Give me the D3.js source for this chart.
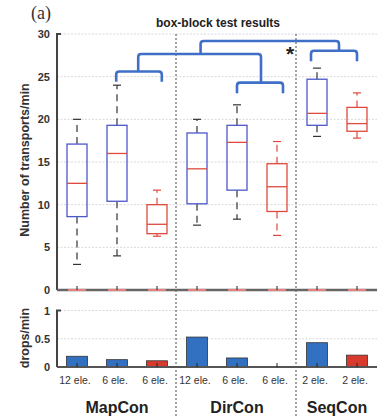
<!DOCTYPE html>
<html><head><meta charset="utf-8">
<script src="https://cdn.jsdelivr.net/npm/d3@7"></script>
<style>body{margin:0;background:#fff}svg{display:block}</style>
</head><body>
<script>
const categories = ["12 ele.","6 ele.","6 ele.","12 ele.","6 ele.","6 ele.","2 ele.","2 ele."];
const groups = ["MapCon","DirCon","SeqCon"];
const groupOf = [0,0,0,1,1,1,2,2];
const condition = ["a","a","b","a","a","b","a","b"];
const whiskerLow  = [3.0, 4.0, 6.3, 7.6, 8.3, 6.4, 18.0, 17.8];
const q1          = [8.6, 10.4, 6.6, 10.1, 11.7, 9.2, 19.3, 18.6];
const medians     = [12.5, 16.0, 7.7, 14.2, 17.3, 12.1, 20.7, 19.5];
const q3          = [17.1, 19.3, 10.0, 18.4, 19.3, 14.8, 24.7, 21.4];
const whiskerHigh = [20.0, 24.0, 11.7, 20.0, 21.7, 17.4, 26.0, 23.1];
const drops       = [0.19, 0.13, 0.11, 0.53, 0.16, 0.0, 0.43, 0.21];
const topTicks = [0,5,10,15,20,25,30];
const bottomTicks = [0,0.5,1];
// significance brackets: positions in category units, heights in transports/min
const bracketX1 = [0.98, 1.53, 4.0, 3.09, 5.85];
const bracketX2 = [2.12, 4.6, 5.15, 6.55, 7.0];
const bracketTop = [25.6, 27.66, 24.3, 29.18, 28.04];
const bracketB1 = [24.4, 25.6, 23.05, 27.66, 26.8];
const bracketB2 = [24.4, 24.3, 23.05, 28.04, 26.8];

const W = 380, H = 418;
const svg = d3.select("body").append("svg").attr("width", W).attr("height", H);
const L = 57, R = 377;
const x = d3.scaleBand().domain(d3.range(categories.length)).range([L, R]);
const cx = i => x(i) + x.bandwidth() / 2;
const xc = d3.scaleLinear().domain([0, 1]).range([cx(0), cx(1)]);
const y = d3.scaleLinear().domain([0, 30]).range([290, 34]);
const yb = d3.scaleLinear().domain([0, 1]).range([367, 310.5]);

const blue = "#4d57c9", red = "#de4a3c", gridC = "#d8d8d8";
const font = "Liberation Sans, Arial, sans-serif";

// grids
svg.append("g").selectAll("line").data(topTicks.filter(t => t > 0)).join("line")
  .attr("x1", L).attr("x2", R).attr("y1", d => y(d)).attr("y2", d => y(d))
  .attr("stroke", gridC).attr("stroke-dasharray", "2,1.5").attr("stroke-width", 1);
svg.append("g").selectAll("line").data(bottomTicks.filter(t => t > 0)).join("line")
  .attr("x1", L).attr("x2", R).attr("y1", d => yb(d)).attr("y2", d => yb(d))
  .attr("stroke", gridC).attr("stroke-dasharray", "2,1.5").attr("stroke-width", 1);

// group dividers
const dividers = [2, 5].map(i => (cx(i) + cx(i + 1)) / 2 - 1);
svg.append("g").selectAll("line").data(dividers).join("line")
  .attr("x1", d => d).attr("x2", d => d).attr("y1", y(30)).attr("y2", H)
  .attr("stroke", "#666").attr("stroke-dasharray", "2,2").attr("stroke-width", 1.2);

// axes
function yAxis(scale, ticks, fmt) {
  const g = svg.append("g").attr("transform", `translate(${L},0)`)
    .call(d3.axisLeft(scale).tickValues(ticks).tickFormat(fmt).tickSize(0).tickPadding(7));
  g.select(".domain").remove();
  g.selectAll("text").attr("font-family", font).attr("font-weight", "bold").attr("font-size", 11).attr("fill", "#333");
  const [a, b] = scale.range();
  svg.append("path").attr("d", `M${L+4},${b}H${L}V${a}`).attr("fill", "none").attr("stroke", "#444").attr("stroke-width", 2);
}
yAxis(y, topTicks, d3.format("d"));
yAxis(yb, bottomTicks, d => d === 0.5 ? "0.5" : d3.format("d")(d));

// boxes
const boxW = 20, capW = 8;
const bg = svg.append("g").selectAll("g").data(categories.map((c, i) => i)).join("g");
bg.each(function(i) {
  const g = d3.select(this);
  const c = cx(i);
  const isB = condition[i] === "b";
  const wc = isB ? red : "#333";
  const bc = isB ? red : blue;
  g.append("line").attr("x1", c).attr("x2", c).attr("y1", y(q3[i])).attr("y2", y(whiskerHigh[i]))
    .attr("stroke", wc).attr("stroke-width", 1.2).attr("stroke-dasharray", "7,5");
  g.append("line").attr("x1", c).attr("x2", c).attr("y1", y(q1[i])).attr("y2", y(whiskerLow[i]))
    .attr("stroke", wc).attr("stroke-width", 1.2).attr("stroke-dasharray", "7,5");
  [whiskerHigh[i], whiskerLow[i]].forEach(v => g.append("line")
    .attr("x1", c - capW/2).attr("x2", c + capW/2).attr("y1", y(v)).attr("y2", y(v))
    .attr("stroke", wc).attr("stroke-width", 1.2));
  g.append("rect").attr("x", c - boxW/2).attr("width", boxW)
    .attr("y", y(q3[i])).attr("height", y(q1[i]) - y(q3[i]))
    .attr("fill", "none").attr("stroke", bc).attr("stroke-width", 1.3);
  g.append("line").attr("x1", c - boxW/2).attr("x2", c + boxW/2).attr("y1", y(medians[i])).attr("y2", y(medians[i]))
    .attr("stroke", red).attr("stroke-width", 1.3);
});

// top plot baseline
svg.append("line").attr("x1", L).attr("x2", R).attr("y1", y(0)).attr("y2", y(0)).attr("stroke", "#666").attr("stroke-width", 2.5);
svg.append("g").selectAll("line").data(categories.map((c, i) => i)).join("line")
  .attr("x1", i => cx(i) - 9).attr("x2", i => cx(i) + 9).attr("y1", y(0)).attr("y2", y(0))
  .attr("stroke", "#e88080").attr("stroke-width", 2);
svg.append("g").selectAll("line").data(categories.map((c, i) => i)).join("line")
  .attr("x1", i => cx(i)).attr("x2", i => cx(i)).attr("y1", y(0) - 4).attr("y2", y(0))
  .attr("stroke", "#222").attr("stroke-width", 1);

// brackets
const rr = 3;
bracketX1.forEach((_, k) => {
  const x1 = xc(bracketX1[k]), x2 = xc(bracketX2[k]);
  const t = y(bracketTop[k]), b1 = y(bracketB1[k]), b2 = y(bracketB2[k]);
  const p = `M${x1},${b1}V${t+rr}Q${x1},${t} ${x1+rr},${t}H${x2-rr}Q${x2},${t} ${x2},${t+rr}V${b2}`;
  svg.append("path").attr("d", p).attr("fill", "none").attr("stroke", "#3f6fc6").attr("stroke-width", 2.6);
});
svg.append("text").attr("x", 290).attr("y", 61).attr("text-anchor", "middle")
  .attr("font-family", font).attr("font-weight", "bold").attr("font-size", 21).attr("fill", "#222").text("*");

// bars
svg.append("g").selectAll("rect").data(drops.map((d, i) => i)).join("rect")
  .attr("x", i => cx(i) - 10.5).attr("width", 21)
  .attr("y", i => yb(drops[i])).attr("height", i => yb(0) - yb(drops[i]))
  .attr("fill", i => condition[i] === "b" ? "#d83b2e" : "#3270c2")
  .attr("stroke", "#333").attr("stroke-width", 0.8);
svg.append("line").attr("x1", L).attr("x2", R).attr("y1", yb(0)).attr("y2", yb(0)).attr("stroke", "#555").attr("stroke-width", 2);
svg.append("g").selectAll("line").data(categories.map((c, i) => i)).join("line")
  .attr("x1", i => cx(i)).attr("x2", i => cx(i)).attr("y1", yb(0) - 4).attr("y2", yb(0))
  .attr("stroke", "#222").attr("stroke-width", 1);

// category labels
svg.append("g").selectAll("text").data(categories).join("text")
  .attr("x", (d, i) => cx(i) - 2).attr("y", 384).attr("text-anchor", "middle")
  .attr("font-family", font).attr("font-size", 10.5).attr("fill", "#333").text(d => d);
// group labels
svg.append("g").selectAll("text").data(groups).join("text")
  .attr("x", (d, g) => {
    const idx = d3.range(categories.length).filter(i => groupOf[i] === g);
    return (cx(idx[0]) + cx(idx[idx.length - 1])) / 2;
  })
  .attr("y", 413).attr("text-anchor", "middle")
  .attr("font-family", font).attr("font-weight", "bold").attr("font-size", 16).attr("fill", "#222").text(d => d);

// titles
svg.append("text").attr("x", 218).attr("y", 27).attr("text-anchor", "middle")
  .attr("font-family", font).attr("font-weight", "bold").attr("font-size", 12).attr("fill", "#222").text("box-block test results");
svg.append("text").attr("x", 31).attr("y", 19)
  .attr("font-family", "Liberation Serif, serif").attr("font-size", 18).attr("fill", "#333").text("(a)");
svg.append("text").attr("transform", `translate(29,160) rotate(-90)`).attr("text-anchor", "middle")
  .attr("font-family", font).attr("font-weight", "bold").attr("font-size", 12.5).attr("fill", "#333").text("Number of transports/min");
svg.append("text").attr("transform", `translate(29,338) rotate(-90)`).attr("text-anchor", "middle")
  .attr("font-family", font).attr("font-weight", "bold").attr("font-size", 12.5).attr("fill", "#333").text("drops/min");
</script>
</body></html>
